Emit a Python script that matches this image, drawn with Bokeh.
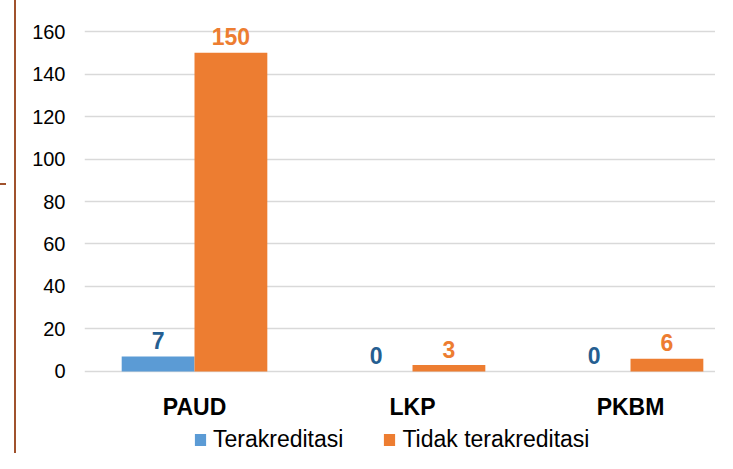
import numpy as np
from bokeh.plotting import figure
from bokeh.models import Range1d, FixedTicker, Legend, LegendItem, ColumnDataSource, InlineStyleSheet
from bokeh.core.properties import value
from bokeh.embed import file_html
from bokeh.resources import INLINE

# ---- data ----
categories = ["PAUD", "LKP", "PKBM"]
series_names = ["Terakreditasi", "Tidak terakreditasi"]
terakreditasi = [7, 0, 0]
tidak_terakreditasi = [150, 3, 6]
y_ticks = [0, 20, 40, 60, 80, 100, 120, 140, 160]

BLUE = "#5B9BD5"
ORANGE = "#ED7D31"
BLUE_LABEL = "#255E91"
BROWN = "#A0522D"
FONT = "Liberation Sans"

pos = np.arange(len(categories)) + 0.5
bw = 0.334

src = ColumnDataSource(dict(
    x=pos, x_a=pos - bw / 2, x_b=pos + bw / 2,
    zero=[0] * len(categories), cat=categories,
    a=terakreditasi, b=tidak_terakreditasi,
    a_lab=[str(v) for v in terakreditasi],
    b_lab=[str(v) for v in tidak_terakreditasi],
))

tick_css = InlineStyleSheet(css=(
    ":host::before {content: ''; position: absolute; left: -16px; top: 183px;"
    " width: 6px; height: 2px; background: " + BROWN + ";}"
))

p = figure(width=701, height=453,
           x_range=Range1d(-0.0046, 2.899), y_range=Range1d(-38.6, 174.6),
           output_backend="svg", toolbar_location=None,
           min_border_left=68, min_border_right=0, min_border_top=0, min_border_bottom=0,
           styles={"margin-left": "14px", "border-left": "2px solid " + BROWN},
           stylesheets=[tick_css])
p.outline_line_color = None
p.background_fill_color = "white"
p.border_fill_color = "white"

ra = p.vbar(x="x_a", top="a", bottom=0, width=bw, color=BLUE, line_color=None, source=src)
rb = p.vbar(x="x_b", top="b", bottom=0, width=bw, color=ORANGE, line_color=None, source=src)

p.text(x="x_a", y="a", text="a_lab", source=src, text_align="center", text_baseline="alphabetic",
       y_offset=-16, text_font=value(FONT), text_font_style="bold", text_font_size="23px",
       text_color=BLUE_LABEL)
p.text(x="x_b", y="b", text="b_lab", source=src, text_align="center", text_baseline="alphabetic",
       y_offset=-16, text_font=value(FONT), text_font_style="bold", text_font_size="23px",
       text_color=ORANGE)

# category labels under the baseline
p.text(x="x", y="zero", text="cat", source=src, text_align="center", text_baseline="alphabetic",
       y_offset=36, text_font=value(FONT), text_font_style="bold", text_font_size="23px",
       text_color="#000000")

# axes
p.xaxis.visible = False
p.yaxis.ticker = FixedTicker(ticks=y_ticks)
p.yaxis.axis_line_color = None
p.yaxis.major_tick_line_color = None
p.yaxis.minor_tick_line_color = None
p.yaxis.major_tick_out = 0
p.yaxis.major_label_standoff = 19
p.yaxis.major_label_text_font = FONT
p.yaxis.major_label_text_font_size = "20px"
p.yaxis.major_label_text_color = "#000000"

p.xgrid.grid_line_color = None
p.ygrid.ticker = FixedTicker(ticks=y_ticks)
p.ygrid.grid_line_color = "#D9D9D9"
p.ygrid.grid_line_width = 1.5

legend = Legend(items=[LegendItem(label=series_names[0], renderers=[ra]),
                       LegendItem(label=series_names[1], renderers=[rb])],
                orientation="horizontal", location=(109, 0),
                glyph_width=14, glyph_height=15, label_standoff=6, spacing=39,
                padding=0, margin=0, border_line_color=None, background_fill_alpha=0,
                label_text_font=FONT, label_text_font_size="23px", label_text_color="#000000")
p.add_layout(legend)

open("out.html", "w").write(file_html(p, INLINE))
